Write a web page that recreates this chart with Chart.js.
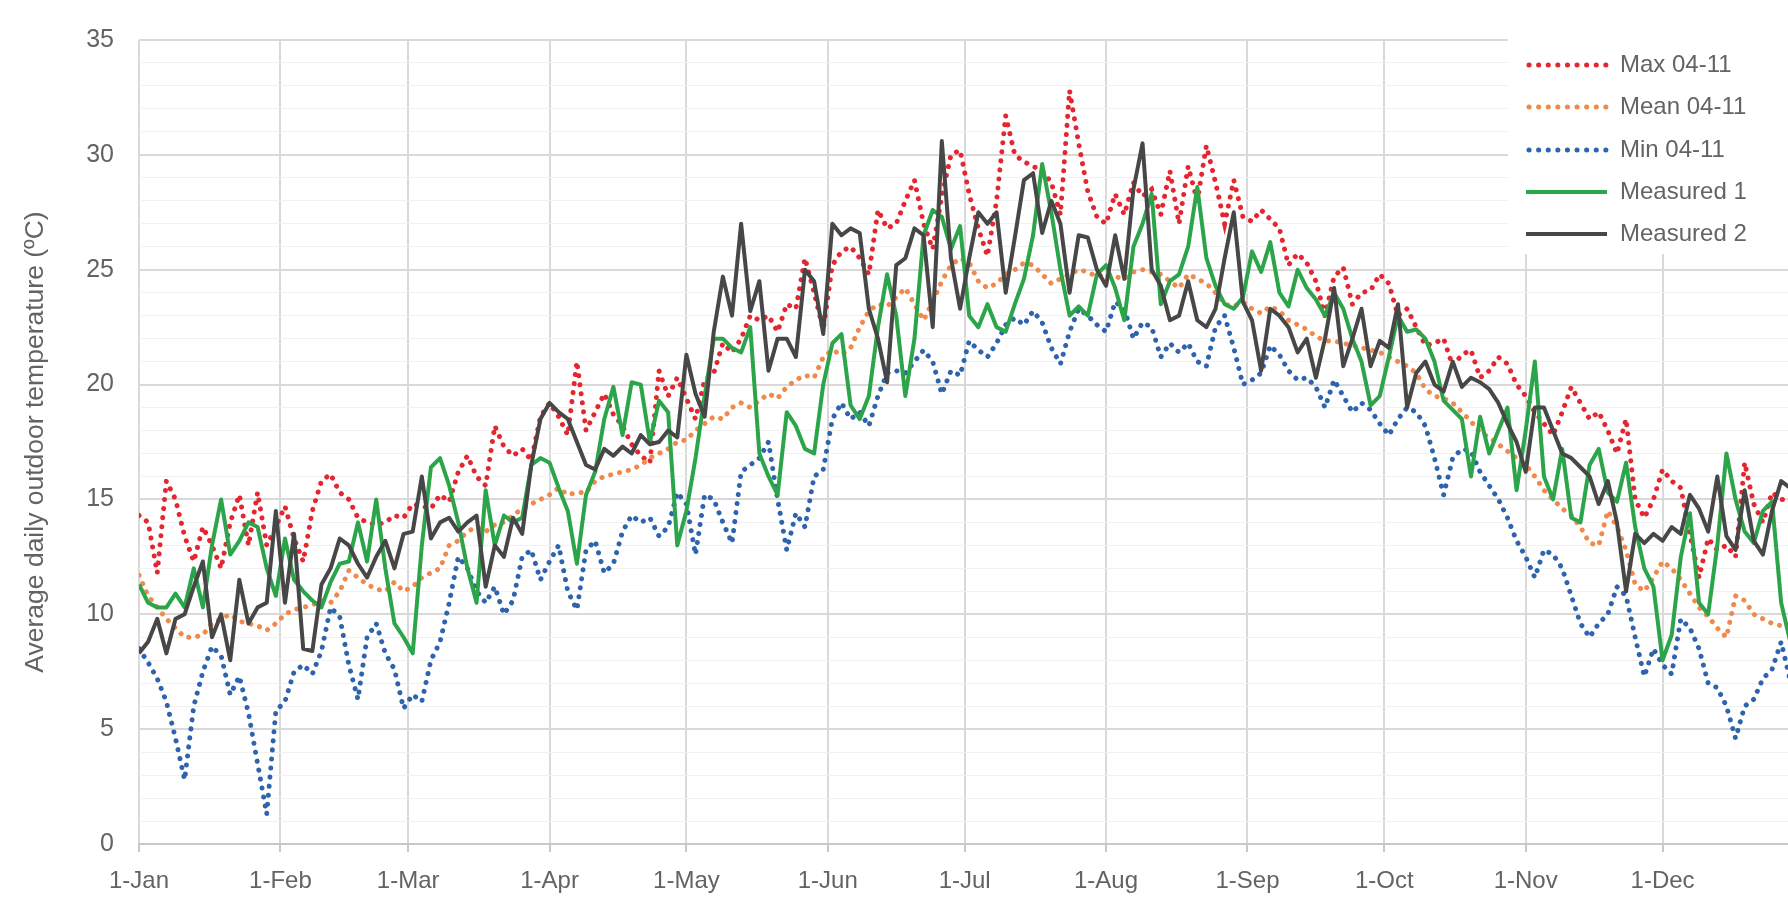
<!DOCTYPE html>
<html><head><meta charset="utf-8">
<script src="https://cdn.jsdelivr.net/npm/chart.js@4/dist/chart.umd.min.js"></script>
<style>html,body{margin:0;padding:0;background:#fff;overflow:hidden}canvas{display:block}</style>
</head><body>
<canvas id="c" width="1788" height="899"></canvas>
<script>
const days = [0,2,4,6,8,10,12,14,16,18,20,22,24,26,28,30,32,34,36,38,40,42,44,46,48,50,52,54,56,58,60,62,64,66,68,70,72,74,76,78,80,82,84,86,88,90,92,94,96,98,100,102,104,106,108,110,112,114,116,118,120,122,124,126,128,130,132,134,136,138,140,142,144,146,148,150,152,154,156,158,160,162,164,166,168,170,172,174,176,178,180,182,184,186,188,190,192,194,196,198,200,202,204,206,208,210,212,214,216,218,220,222,224,226,228,230,232,234,236,238,240,242,244,246,248,250,252,254,256,258,260,262,264,266,268,270,272,274,276,278,280,282,284,286,288,290,292,294,296,298,300,302,304,306,308,310,312,314,316,318,320,322,324,326,328,330,332,334,336,338,340,342,344,346,348,350,352,354,356,358,360,362];
const monthDays = [0,31,59,90,120,151,181,212,243,273,304,334];
const monthLabels = ['1-Jan','1-Feb','1-Mar','1-Apr','1-May','1-Jun','1-Jul','1-Aug','1-Sep','1-Oct','1-Nov','1-Dec'];
const yTickLabels = [0,5,10,15,20,25,30,35];
const seriesNames = ['Max 04-11','Mean 04-11','Min 04-11','Measured 1','Measured 2'];

const maxVals = [14.3,14.0,11.8,15.8,15.0,13.4,12.3,13.8,13.0,12.0,14.0,15.2,13.0,15.3,13.0,13.8,14.7,13.3,12.3,14.5,15.8,16.1,15.3,
15.0,14.2,14.0,13.9,14.0,14.3,14.2,14.8,14.7,14.6,15.2,14.9,16.2,16.9,16.0,15.6,18.2,17.3,16.9,17.2,16.7,18.6,19.2,
18.6,17.8,21.0,18.0,18.8,19.6,18.7,18.2,17.4,16.9,16.6,20.6,19.5,20.3,19.4,18.5,20.2,20.5,21.8,21.4,22.0,23.0,22.8,
23.0,22.3,23.5,23.3,25.5,24.0,22.4,25.2,25.8,26.0,25.5,24.8,27.6,26.8,27.0,28.0,28.9,27.0,25.9,28.2,30.0,30.2,28.3,
26.8,25.6,28.0,31.7,30.0,29.7,29.5,29.3,28.8,27.4,32.8,30.5,28.4,27.3,27.0,28.3,27.4,28.8,28.2,28.5,27.4,29.3,27.0,
29.5,28.0,30.4,28.8,27.0,28.9,27.3,27.1,27.6,27.2,26.8,25.2,25.7,25.3,24.5,23.0,24.7,25.1,23.5,24.0,24.1,24.8,24.4,
23.0,23.3,22.5,21.7,21.8,22.0,20.8,21.3,21.5,20.3,20.6,21.2,20.9,20.0,19.5,18.8,18.3,17.8,18.8,19.9,19.2,18.5,18.8,
18.0,17.0,18.5,15.0,14.2,15.0,16.3,15.8,15.5,13.5,11.6,13.3,12.8,13.0,12.5,16.6,14.8,14.0,15.3,15.0,15.0];

const meanVals = [11.7,10.8,10.3,9.8,9.4,9.0,9.0,9.1,9.6,9.8,10.0,9.7,9.6,9.5,9.3,9.6,10.0,10.2,10.3,10.4,10.6,10.5,11.0,
11.9,11.6,11.3,11.1,11.0,11.4,11.0,11.2,11.6,11.8,12.0,13.0,13.2,13.6,13.8,13.6,13.9,14.0,14.3,14.6,14.8,15.0,15.2,
15.5,15.2,15.3,15.3,15.8,16.0,16.1,16.2,16.3,16.5,16.8,17.0,17.2,17.5,17.6,18.0,18.3,18.6,18.5,19.0,19.2,19.0,19.3,
19.6,19.4,19.9,20.2,20.4,20.3,21.2,21.5,21.3,21.6,22.5,23.2,23.5,23.4,23.8,24.2,23.5,22.8,23.6,24.5,25.2,25.5,25.3,
24.5,24.2,24.4,24.8,25.0,25.3,25.2,24.8,24.4,24.6,24.8,25.0,24.9,24.7,24.8,24.7,24.6,24.9,25.0,24.9,24.8,24.5,24.2,
24.8,24.6,24.4,24.0,23.5,23.4,23.6,23.3,23.1,23.4,23.2,22.8,22.6,22.4,22.1,21.9,21.9,21.8,21.7,21.6,21.5,21.4,21.2,
21.0,20.8,20.5,19.8,19.5,19.4,19.2,18.8,18.4,17.9,17.7,17.4,17.1,16.8,16.5,16.0,15.4,15.0,14.6,14.3,13.8,13.1,13.0,
14.5,13.8,12.8,11.3,11.0,11.6,12.3,12.0,11.5,10.9,10.3,9.9,9.4,9.0,10.8,10.6,10.0,9.8,9.6,9.5,9.5];

const minVals = [8.5,7.9,7.2,6.2,4.6,2.8,6.0,7.5,8.6,8.2,6.5,7.3,5.7,3.5,1.3,5.8,6.2,7.5,7.8,7.4,8.4,10.3,9.9,
7.8,6.3,9.0,9.6,8.3,7.6,5.9,6.5,6.2,8.0,8.8,10.5,12.5,12.0,11.0,10.5,11.2,10.0,10.6,12.5,12.8,11.5,12.3,
13.0,11.0,10.2,12.8,13.2,11.8,12.2,13.6,14.3,14.0,14.2,13.4,13.8,15.3,14.8,12.6,15.2,15.0,14.0,13.1,16.2,16.5,16.8,
17.5,15.0,12.8,14.4,13.8,16.0,16.3,18.5,19.2,18.5,18.8,18.2,19.5,20.5,20.6,20.5,21.0,21.5,21.0,19.6,20.6,20.4,21.9,
21.5,21.2,21.8,22.6,22.9,22.6,23.2,22.7,21.6,20.9,22.3,23.3,23.0,22.6,22.3,23.6,23.3,22.0,22.7,22.5,21.2,21.8,21.4,
21.8,21.0,20.8,22.5,23.0,21.6,20.0,20.2,20.5,21.7,21.3,20.6,20.2,20.3,19.9,19.0,20.2,19.5,18.8,19.2,18.9,18.3,17.8,
18.5,19.0,18.8,18.2,16.8,15.2,16.8,17.2,17.1,16.2,15.6,15.0,14.2,13.2,12.5,11.6,12.8,12.6,12.0,10.8,9.6,9.0,9.6,
10.0,11.2,10.8,9.0,7.3,8.5,7.8,7.4,9.8,9.4,8.5,7.0,6.8,6.0,4.6,6.0,6.3,7.2,7.6,8.8,7.1];

const measured1Vals = [11.3,10.5,10.3,10.3,10.9,10.3,12.0,10.3,13.0,15.0,12.6,13.2,14.0,13.8,12.0,10.8,13.3,11.5,11.0,10.6,10.3,11.4,12.2,
12.3,14.0,12.3,15.0,12.0,9.6,9.0,8.3,13.0,16.4,16.8,15.6,14.0,12.0,10.5,15.4,13.0,14.3,14.0,14.2,16.5,16.8,16.6,
15.5,14.5,12.2,15.2,16.2,18.5,19.9,17.8,20.1,20.0,17.5,19.3,18.8,13.0,14.5,16.8,19.5,22.0,22.0,21.6,21.4,22.5,17.0,
16.0,15.2,18.8,18.2,17.2,17.0,20.0,21.8,22.2,19.1,18.5,19.5,22.5,24.8,23.0,19.5,22.0,26.5,27.6,27.3,25.9,26.9,23.0,
22.5,23.5,22.5,22.3,23.5,24.6,26.5,29.6,27.5,25.0,23.0,23.4,23.0,24.8,25.2,24.2,22.8,26.0,27.0,28.3,23.5,24.5,24.8,
26.0,28.6,25.5,24.3,23.5,23.3,23.8,25.8,24.9,26.2,24.0,23.4,25.0,24.2,23.7,23.0,24.0,23.3,22.0,21.0,19.1,19.5,21.2,
23.0,22.3,22.4,22.0,21.0,19.3,18.9,18.5,16.0,18.6,17.0,18.0,19.0,15.4,18.0,21.0,16.0,15.0,17.2,14.2,14.0,16.5,17.2,
15.3,14.9,16.6,13.8,12.0,11.2,8.0,9.1,12.5,14.4,10.5,10.0,13.0,17.0,15.0,13.6,13.1,14.5,14.9,10.5,8.8];

const measured2Vals = [8.3,8.8,9.8,8.3,9.8,10.0,11.2,12.3,9.0,10.0,8.0,11.5,9.6,10.3,10.5,14.5,10.5,13.5,8.5,8.4,11.3,12.0,13.3,
13.0,12.2,11.6,12.5,13.2,12.0,13.5,13.6,16.0,13.3,14.0,14.2,13.6,14.0,14.3,11.2,13.0,12.5,14.2,13.5,16.5,18.5,19.2,
18.8,18.5,17.5,16.5,16.3,17.2,16.9,17.3,17.0,17.8,17.4,17.5,18.0,17.7,21.3,19.6,18.6,22.3,24.7,23.0,27.0,23.2,24.5,
20.6,22.0,22.0,21.2,25.0,24.5,22.2,27.0,26.5,26.8,26.6,23.3,22.0,20.1,25.2,25.5,26.8,26.5,22.5,30.6,25.5,23.3,25.5,
27.5,27.0,27.5,24.0,26.4,28.9,29.2,26.6,28.0,27.0,24.0,26.5,26.4,25.0,24.3,26.5,24.6,28.5,30.5,25.0,24.3,22.8,23.0,
24.5,22.8,22.5,23.3,25.5,27.5,23.6,22.8,20.6,23.3,23.0,22.5,21.4,22.0,20.3,22.0,24.2,20.8,22.0,23.3,20.8,21.9,21.6,
23.5,19.0,20.5,21.0,20.0,19.7,21.0,19.9,20.3,20.1,19.8,19.2,18.3,17.5,16.2,19.0,19.0,18.0,17.0,16.8,16.4,16.0,14.8,
15.8,14.0,11.0,13.5,13.1,13.5,13.2,13.8,13.5,15.2,14.6,13.6,16.0,13.4,12.8,15.4,13.2,12.6,14.5,15.8,15.5];

const FONT = "'Liberation Sans', Arial, sans-serif";
const TEXT = '#636363';

function pts(vals) { return vals.map((v, i) => ({ x: days[i], y: v })); }
function dotted(label, vals, color, order) {
  return { label, data: pts(vals), borderColor: color, backgroundColor: color, borderWidth: 5,
    borderDash: [0.1, 9], borderCapStyle: 'round', pointRadius: 0, tension: 0, fill: false, order, dotted: true };
}
function solid(label, vals, color, order) {
  return { label, data: pts(vals), borderColor: color, backgroundColor: color, borderWidth: 4,
    borderJoinStyle: 'round', pointRadius: 0, tension: 0, fill: false, order, dotted: false };
}

const legendPlugin = {
  id: 'boxLegend',
  afterDraw(chart) {
    const ctx = chart.ctx;
    ctx.save();
    ctx.fillStyle = '#ffffff';
    ctx.fillRect(1508, 36, 290, 218);
    const rows = [65, 107, 150, 192, 234];
    chart.data.datasets.forEach((ds, i) => {
      const y = rows[i];
      ctx.beginPath();
      ctx.strokeStyle = ds.borderColor;
      ctx.lineWidth = ds.dotted ? 5 : 4;
      ctx.lineCap = ds.dotted ? 'round' : 'butt';
      ctx.setLineDash(ds.dotted ? [0.1, 9.5] : []);
      ctx.moveTo(ds.dotted ? 1529 : 1526, y);
      ctx.lineTo(1607, y);
      ctx.stroke();
      ctx.setLineDash([]);
      ctx.fillStyle = TEXT;
      ctx.font = '24px ' + FONT;
      ctx.textBaseline = 'middle';
      ctx.textAlign = 'left';
      ctx.fillText(ds.label, 1620, y);
    });
    ctx.restore();
  }
};

new Chart(document.getElementById('c'), {
  type: 'line',
  data: {
    datasets: [
      dotted(seriesNames[0], maxVals, '#e3262f', 5),
      dotted(seriesNames[1], meanVals, '#ef8a4c', 4),
      dotted(seriesNames[2], minVals, '#2e63ad', 3),
      solid(seriesNames[3], measured1Vals, '#2ba44a', 2),
      solid(seriesNames[4], measured2Vals, '#474747', 1)
    ]
  },
  options: {
    responsive: false,
    animation: false,
    devicePixelRatio: 1,
    events: [],
    layout: { autoPadding: false, padding: { top: 28, left: 0, right: 0, bottom: 0 } },
    plugins: { legend: { display: false }, tooltip: { enabled: false } },
    scales: {
      x: {
        type: 'linear', min: 0, max: 361.5,
        afterBuildTicks: s => { s.ticks = monthDays.map(v => ({ value: v })); },
        afterFit: s => { s.height = 55; },
        ticks: { autoSkip: false, maxRotation: 0, minRotation: 0, padding: 15, color: TEXT,
          font: { family: FONT, size: 24 },
          callback: v => { const k = monthDays.indexOf(v); return k >= 0 ? monthLabels[k] : ''; } },
        grid: { color: '#d9d9d9', lineWidth: 2, drawTicks: true, tickLength: 8, tickColor: '#c8c8c8' },
        border: { display: true, color: '#c8c8c8', width: 2 }
      },
      y: {
        min: 0, max: 35,
        afterFit: s => { s.width = 139; },
        ticks: { stepSize: 1, autoSkip: false, padding: 25, color: TEXT, font: { family: FONT, size: 25 },
          callback: v => yTickLabels.includes(v) ? String(v) : '' },
        grid: { drawTicks: false,
          color: c => (c.tick && c.tick.value % 5 === 0) ? '#d9d9d9' : '#f1f1f1',
          lineWidth: c => (c.tick && c.tick.value % 5 === 0) ? 2 : 1 },
        border: { display: false },
        title: { display: true, text: 'Average daily outdoor temperature (ºC)', color: TEXT,
          font: { family: FONT, size: 26.5 }, padding: { top: 20, bottom: 0 } }
      }
    }
  },
  plugins: [legendPlugin]
});
</script>
</body></html>
